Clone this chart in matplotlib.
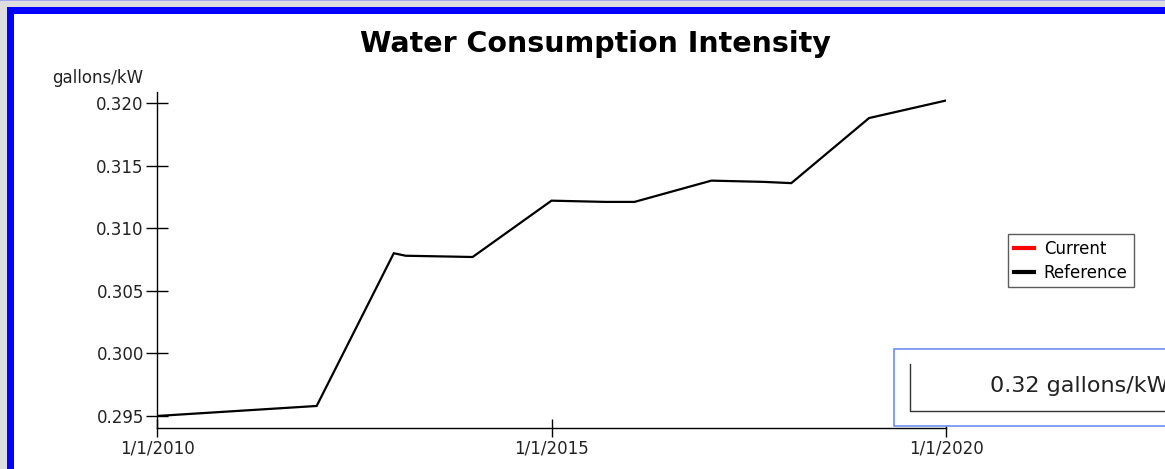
import datetime as dt
import matplotlib
matplotlib.use('Agg')
import matplotlib.pyplot as plt
from matplotlib.patches import Rectangle
from matplotlib.lines import Line2D

# data (reference series, gallons/kW)
dates = ['2010-01-01', '2012-01-10', '2013-01-01', '2013-02-25', '2014-01-01',
         '2015-01-01', '2015-09-10', '2016-01-20', '2017-01-10', '2017-09-10',
         '2018-01-15', '2019-01-10', '2020-01-01']
reference = [0.2950, 0.2958, 0.3080, 0.3078, 0.3077,
             0.3122, 0.3121, 0.3121, 0.3138, 0.3137,
             0.3136, 0.3188, 0.3202]
current_value = 0.32
y_ticks = [0.295, 0.300, 0.305, 0.310, 0.315, 0.320]
x_ticks = ['2010-01-01', '2015-01-01', '2020-01-01']

W, H = 1165, 469
DPI = 100


def px_rect(x, y, w, h, **kw):
    # rectangle given in pixels from the top-left corner
    return Rectangle((x / W, 1 - (y + h) / H), w / W, h / H,
                     transform=fig.transFigure, **kw)


fig = plt.figure(figsize=(W / DPI, H / DPI), dpi=DPI)
fig.patch.set_facecolor('#dedede')
fig.add_artist(px_rect(0, 0, W, 1.5, facecolor='#a8a8f0', edgecolor='none', zorder=-10))
fig.add_artist(px_rect(7, 7, W, H, facecolor='#0000ff', edgecolor='none', zorder=-10))
fig.add_artist(px_rect(14, 14, W, H, facecolor='white', edgecolor='none', zorder=-9))

# axes: left edge x=157, right x=946, top y=92, bottom y=428
ax = fig.add_axes([157 / W, 1 - 428 / H, (946 - 157) / W, (428 - 92) / H])
ax.set_facecolor('none')

xd = [dt.datetime.fromisoformat(d) for d in dates]
ax.plot(xd, reference, color='black', lw=1.6, solid_joinstyle='miter')

ax.set_xlim(dt.datetime(2010, 1, 1), dt.datetime(2020, 1, 1))
ax.set_ylim(0.29404, 0.32088)
ax.set_yticks(y_ticks)
ax.set_yticklabels(['%.3f' % v for v in y_ticks])
ax.set_xticks([dt.datetime.fromisoformat(d) for d in x_ticks])
ax.set_xticklabels(['1/1/%s' % d[:4] for d in x_ticks])

for s in ['top', 'right']:
    ax.spines[s].set_visible(False)
for s in ['left', 'bottom']:
    ax.spines[s].set_linewidth(1.0)
ax.tick_params(axis='y', direction='inout', length=16, width=1.0,
               labelsize=12, pad=1.5, colors='black')
ax.tick_params(axis='x', direction='inout', length=13, width=1.0,
               labelsize=12, pad=1.5, colors='black')
for lab in ax.get_xticklabels() + ax.get_yticklabels():
    lab.set_color('#222222')

fig.text(143 / W, 1 - 78 / H, 'gallons/kW', ha='right', va='center',
         fontsize=12, color='#222222')
fig.text(595 / W, 1 - 44 / H, 'Water Consumption Intensity', ha='center',
         va='center', fontsize=20.5, fontweight='bold', color='black')

# legend
handles = [Line2D([], [], color='red', lw=3), Line2D([], [], color='black', lw=3)]
leg = fig.legend(handles, ['Current', 'Reference'], loc='upper left',
                 bbox_to_anchor=(1008 / W, 1 - 234 / H), fontsize=12,
                 handlelength=1.2, handletextpad=0.6, borderpad=0.35,
                 labelspacing=0.35, borderaxespad=0, fancybox=False, frameon=True)
leg.get_frame().set_edgecolor('#333333')
leg.get_frame().set_linewidth(1.0)

# current value box (cut off at the right edge, as in the original panel)
fig.add_artist(px_rect(894, 349, 300, 77, facecolor='white',
                       edgecolor='#6f8ff0', lw=1.2))
fig.add_artist(Line2D([910 / W, 910 / W, 1.2], [1 - 364 / H, 1 - 411 / H, 1 - 411 / H],
                      transform=fig.transFigure, color='#333333', lw=1.0))
fig.text(990 / W, 1 - 386 / H, '%.2f gallons/kW' % current_value,
         ha='left', va='center', fontsize=16, color='#222222')

fig.savefig('out.png', dpi=DPI)
